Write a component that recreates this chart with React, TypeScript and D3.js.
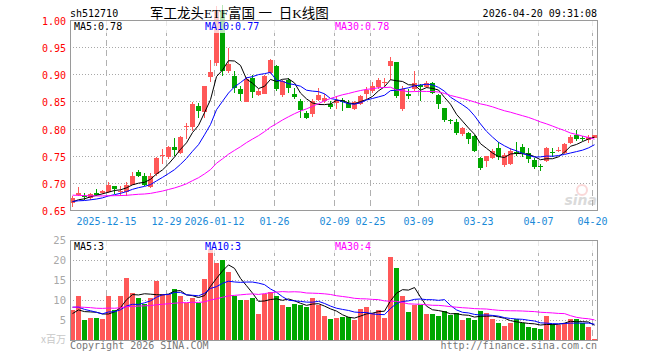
import React from 'react';
import * as d3 from 'd3';

// ---- data ----
const tickIdx = [6, 16, 24, 34, 44, 50, 58, 68, 78, 87];
const tickLabels = ['2025-12-15', '12-29', '2026-01-12', '01-26', '02-09', '02-25', '03-09', '03-23', '04-07', '04-20'];
const priceTicks = ['0.65', '0.70', '0.75', '0.80', '0.85', '0.90', '0.95', '1.00'];
const volTicks = [5, 10, 15, 20, 25];

const opens = [
  0.663, 0.678, 0.6766, 0.6717, 0.6815, 0.6815, 0.6827, 0.6944, 0.6827, 0.684,
  0.6969, 0.7207, 0.7134, 0.6919, 0.7164, 0.749, 0.7471, 0.7655, 0.7551, 0.8023,
  0.8023, 0.8421, 0.83, 0.8948, 0.92, 1.016, 0.9057, 0.8966, 0.8736, 0.8494,
  0.8933, 0.8616, 0.864, 0.9024, 0.9147, 0.8616, 0.8903, 0.864, 0.8506, 0.8293,
  0.8262, 0.8518, 0.8506, 0.8457, 0.848, 0.852, 0.8478, 0.8369, 0.8448, 0.863,
  0.8691, 0.8763, 0.8854, 0.9158, 0.923, 0.8369, 0.863, 0.8733, 0.88, 0.877,
  0.8842, 0.8611, 0.837, 0.8157, 0.8126, 0.7909, 0.7927, 0.7866, 0.7451, 0.7409,
  0.7464, 0.7636, 0.7329, 0.7348, 0.7575, 0.7667, 0.7544, 0.7421, 0.7316, 0.7409,
  0.7575, 0.7593, 0.7556, 0.7728, 0.7882, 0.7832, 0.779, 0.782,
];
const closes = [
  0.672, 0.6815, 0.6735, 0.6797, 0.6784, 0.6858, 0.6969, 0.6888, 0.6858, 0.6969,
  0.7134, 0.7122, 0.6969, 0.7134, 0.7459, 0.7508, 0.7667, 0.7612, 0.7845, 0.8054,
  0.8452, 0.8329, 0.8785, 0.9039, 1.018, 0.906, 0.9191, 0.8754, 0.8633, 0.8918,
  0.8677, 0.8701, 0.8964, 0.9269, 0.872, 0.8884, 0.875, 0.8579, 0.8335, 0.8189,
  0.8506, 0.861, 0.8567, 0.8396, 0.852, 0.849, 0.8387, 0.849, 0.8599, 0.8702,
  0.8781, 0.8903, 0.8867, 0.925, 0.8599, 0.8721, 0.8599, 0.8842, 0.877, 0.8842,
  0.8648, 0.8448, 0.8162, 0.8143, 0.7913, 0.8019, 0.7817, 0.7592, 0.7268, 0.7488,
  0.7587, 0.7483, 0.7513, 0.7587, 0.7544, 0.7556, 0.7433, 0.7298, 0.7298, 0.7636,
  0.7556, 0.7612, 0.7716, 0.7851, 0.7802, 0.782, 0.7851, 0.7882,
];
const highs = [
  0.676, 0.692, 0.6815, 0.6815, 0.6888, 0.6876, 0.7012, 0.6944, 0.695, 0.7012,
  0.7196, 0.7232, 0.7183, 0.7183, 0.7471, 0.7624, 0.7685, 0.782, 0.7857, 0.8102,
  0.8482, 0.847, 0.8785, 0.9269, 1.025, 1.028, 0.9482, 0.9057, 0.8785, 0.8954,
  0.8994, 0.872, 0.899, 0.9287, 0.9177, 0.8903, 0.8933, 0.875, 0.8537, 0.8323,
  0.8537, 0.875, 0.8628, 0.8506, 0.86, 0.857, 0.853, 0.85, 0.862, 0.8763,
  0.8854, 0.8933, 0.8933, 0.9315, 0.923, 0.8782, 0.872, 0.9054, 0.883, 0.887,
  0.886, 0.863, 0.837, 0.8174, 0.8174, 0.8037, 0.7937, 0.7876, 0.7469, 0.75,
  0.762, 0.7759, 0.7556, 0.7636, 0.7759, 0.7716, 0.7636, 0.7452, 0.7347, 0.7655,
  0.7636, 0.7667, 0.774, 0.7882, 0.7974, 0.7863, 0.788, 0.789,
];
const lows = [
  0.655, 0.6766, 0.669, 0.669, 0.6766, 0.6797, 0.6815, 0.6797, 0.6766, 0.6766,
  0.6969, 0.7103, 0.695, 0.6901, 0.7134, 0.7348, 0.744, 0.7502, 0.7532, 0.7808,
  0.7961, 0.8194, 0.8197, 0.8857, 0.916, 0.896, 0.9027, 0.8663, 0.8512, 0.8482,
  0.8567, 0.8598, 0.8628, 0.9006, 0.8689, 0.8579, 0.8658, 0.8537, 0.82, 0.817,
  0.8213, 0.8506, 0.8476, 0.8354, 0.836, 0.833, 0.837, 0.8344, 0.843, 0.8539,
  0.866, 0.8721, 0.8782, 0.8903, 0.857, 0.8326, 0.854, 0.869, 0.851, 0.875,
  0.863, 0.8357, 0.8126, 0.8083, 0.7883, 0.7866, 0.7714, 0.7561, 0.7244, 0.7286,
  0.744, 0.742, 0.7298, 0.733, 0.7495, 0.7483, 0.7372, 0.7255, 0.7225, 0.739,
  0.7483, 0.7575, 0.7532, 0.7716, 0.7777, 0.7777, 0.774, 0.782,
];
const volumes = [
  7.5, 11.1, 4.9, 5.6, 5.6, 5.3, 11.1, 7.6, 10.9, 15.4,
  11.8, 10.6, 9.1, 10.4, 14.7, 11.6, 11.6, 12.8, 11.1, 9.3,
  10.6, 9.3, 15.2, 22.7, 19.2, 19.9, 16.9, 10.9, 10.1, 10.1,
  10.6, 6.6, 11.4, 11.9, 10.9, 8.8, 8.3, 9.1, 8.8, 8.3,
  10.4, 8.8, 6.1, 5.3, 5.56, 5.8, 5.7, 5.05, 7.8, 8.3,
  6.7, 7.6, 5.6, 20.7, 17.9, 11.1, 7.07, 8.8, 8.8, 6.57,
  6.57, 6.06, 7.3, 6.3, 6.7, 5.05, 5.56, 5.05, 7.3, 6.8,
  5.3, 4.3, 3.5, 4.3, 5.3, 4.3, 3.3, 3.0, 2.8, 6.06,
  4.04, 3.8, 4.3, 5.3, 5.3, 4.3, 3.3, 0.25,
];
// sessions before the visible window (estimated from the starting levels of the MA lines)
const prevCloses = [
  0.69, 0.688, 0.692, 0.686, 0.684, 0.689, 0.683, 0.68, 0.684, 0.681,
  0.686, 0.682, 0.679, 0.683, 0.685, 0.68, 0.676, 0.678, 0.681, 0.674,
  0.67, 0.668, 0.667, 0.664, 0.664, 0.662, 0.665, 0.661, 0.665,
];
const prevVolumes = [
  9, 7.5, 8, 10, 6.5, 8.5, 9, 7, 8, 9.5,
  8, 7, 8.5, 9, 7.5, 8, 8.5, 7.5, 9, 7.5,
  11, 10.5, 9, 9.5, 9, 6.5, 7, 6, 6,
];
const priceMaLabels = ['MA5:0.78', 'MA10:0.77', 'MA30:0.78'];
const volMaLabels = ['MA5:3', 'MA10:3', 'MA30:4'];
const maPeriods = [5, 10, 30];
const maColors = ['#000000', '#0000ff', '#ff00ff'];

const RED = '#ff5858';
const GREEN = '#00a600';
const MONO = "'DejaVu Sans Mono', 'Liberation Mono', monospace";

function movingAvg(prev: number[], vals: number[], n: number): number[] {
  const all = prev.concat(vals);
  const off = prev.length;
  return vals.map((_, i) => {
    const seg = all.slice(off + i - n + 1, off + i + 1);
    return d3.mean(seg) as number;
  });
}

export default function App() {
  const n = closes.length;
  const x = d3.scaleLinear().domain([0, n - 1]).range([72, 72 + 6 * (n - 1)]);
  const y = d3.scaleLinear().domain([0.65, 1.0]).range([210, 20]);
  const yv = d3.scaleLinear().domain([0, 25]).range([340, 240]);
  const L = 70, R = 597;

  const priceMAs = maPeriods.map((p) => movingAvg(prevCloses, closes, p));
  const volMAs = maPeriods.map((p) => movingAvg(prevVolumes, volumes, p));
  const lineP = d3.line<number>().x((_, i) => x(i) + 0.5).y((d) => y(d));
  const lineV = d3.line<number>().x((_, i) => x(i) + 0.5).y((d) => yv(d));

  const gridX = (i: number) => Math.round(x(i)) - 1.5;
  const legendX = [74, 205, 335];

  return (
    <svg width={660} height={360} style={{ position: 'absolute', left: 0, top: 0, background: '#fff' }}>
      <rect x={0} y={0} width={660} height={360} fill="#fff" />
      {/* main grid */}
      {priceTicks.slice(1, -1).map((t) => (
        <line key={'h' + t} x1={L} x2={R} y1={Math.round(y(+t)) + 0.5} y2={Math.round(y(+t)) + 0.5}
          stroke="#a8a8a8" strokeDasharray="1,2" />
      ))}
      {tickIdx.map((ti) => (
        <line key={'v' + ti} x1={gridX(ti)} x2={gridX(ti)} y1={20} y2={210} stroke="#b0b0b0" strokeDasharray="6,4" />
      ))}
      {/* volume grid */}
      {volTicks.slice(0, -1).map((t) => (
        <line key={'vh' + t} x1={L} x2={R} y1={Math.round(yv(t)) + 0.5} y2={Math.round(yv(t)) + 0.5}
          stroke="#a8a8a8" strokeDasharray="1,2" />
      ))}
      {tickIdx.map((ti) => (
        <line key={'vv' + ti} x1={gridX(ti)} x2={gridX(ti)} y1={240} y2={340} stroke="#b0b0b0" strokeDasharray="6,4" />
      ))}

      {/* sina watermark */}
      <g opacity={0.3}>
        <circle cx={582} cy={190} r={5} fill="none" stroke="#f08080" strokeWidth={2} />
        <text x={597} y={205} textAnchor="end" fontFamily="'DejaVu Sans', sans-serif" fontSize={14}
          fontStyle="italic" fontWeight="bold" fill="#888">sina</text>
      </g>

      {/* candles */}
      {closes.map((c, i) => {
        const o = opens[i];
        const up = c >= o;
        const col = up ? RED : GREEN;
        const cx = Math.round(x(i));
        const top = Math.round(y(Math.max(o, c)));
        const bot = Math.round(y(Math.min(o, c)));
        return (
          <g key={'c' + i}>
            <line x1={cx + 0.5} x2={cx + 0.5} y1={Math.round(y(highs[i]))} y2={Math.round(y(lows[i]))} stroke={col} />
            <rect x={cx - 2} y={top} width={5} height={Math.max(1, bot - top)} fill={col} />
          </g>
        );
      })}
      {priceMAs.map((m, k) => (
        <path key={'pm' + k} d={lineP(m) || ''} fill="none" stroke={maColors[k]} strokeWidth={1} />
      ))}

      {/* volume bars */}
      {volumes.map((v, i) => {
        const col = closes[i] >= opens[i] ? RED : GREEN;
        const cx = Math.round(x(i));
        const top = Math.round(yv(v));
        return <rect key={'b' + i} x={cx - 2} y={top} width={5} height={Math.max(1, 340 - top)} fill={col} />;
      })}
      {volMAs.map((m, k) => (
        <path key={'vm' + k} d={lineV(m) || ''} fill="none" stroke={maColors[k]} strokeWidth={1} />
      ))}

      {/* fades behind header and legends */}
      <rect x={0} y={0} width={660} height={20} fill="#fff" opacity={0.72} />
      <rect x={71} y={21} width={525} height={12} fill="#fff" opacity={0.72} />
      <rect x={71} y={241} width={525} height={12} fill="#fff" opacity={0.72} />

      {/* frames */}
      <rect x={L + 0.5} y={20.5} width={R - L} height={190} fill="none" stroke="#9a9a9a" />
      <rect x={L + 0.5} y={240.5} width={R - L} height={100} fill="none" stroke="#9a9a9a" />

      {/* axis labels */}
      {priceTicks.map((t) => (
        <text key={'pl' + t} x={66} y={y(+t) + 5} textAnchor="end" fontFamily={MONO} fontSize={10} fill="#ff0000">{t}</text>
      ))}
      {volTicks.map((t) => (
        <text key={'vl' + t} x={66} y={yv(t) + 4} textAnchor="end" fontFamily={MONO} fontSize={10.5} fill="#a8a8a8">{t}</text>
      ))}
      <text x={66} y={343} textAnchor="end" fontFamily="'Noto Sans CJK SC', sans-serif" fontSize={10} fill="#c8c8c8">x百万</text>
      {tickIdx.map((ti, k) => (
        <text key={'xl' + ti} x={gridX(ti)} y={225} textAnchor="middle" fontFamily={MONO} fontSize={10} fill="#1a8ad8">{tickLabels[k]}</text>
      ))}

      {/* legends */}
      {priceMaLabels.map((s, k) => (
        <text key={'pleg' + k} x={legendX[k]} y={30} fontFamily={MONO} fontSize={10} fill={maColors[k]}>{s}</text>
      ))}
      {volMaLabels.map((s, k) => (
        <text key={'vleg' + k} x={legendX[k]} y={250} fontFamily={MONO} fontSize={10} fill={maColors[k]}>{s}</text>
      ))}

      {/* header */}
      <text x={70} y={17} fontFamily={MONO} fontSize={10} fill="#000">sh512710</text>
      <text x={150} y={17.5} fontFamily="'Liberation Serif', 'Noto Sans CJK SC', serif" fontSize={13.5} fill="#000"
        style={{ whiteSpace: 'pre' }}>{'军工龙头ETF富国 一  日K线图'}</text>
      <text x={597} y={17} textAnchor="end" fontFamily={MONO} fontSize={10} fill="#000">2026-04-20 09:31:08</text>

      {/* footer */}
      <text x={70} y={349} fontFamily={MONO} fontSize={10} fill="#777">Copyright 2026 SINA.COM</text>
      <text x={597} y={349} textAnchor="end" fontFamily={MONO} fontSize={10} fill="#777">http://finance.sina.com.cn</text>
    </svg>
  );
}
